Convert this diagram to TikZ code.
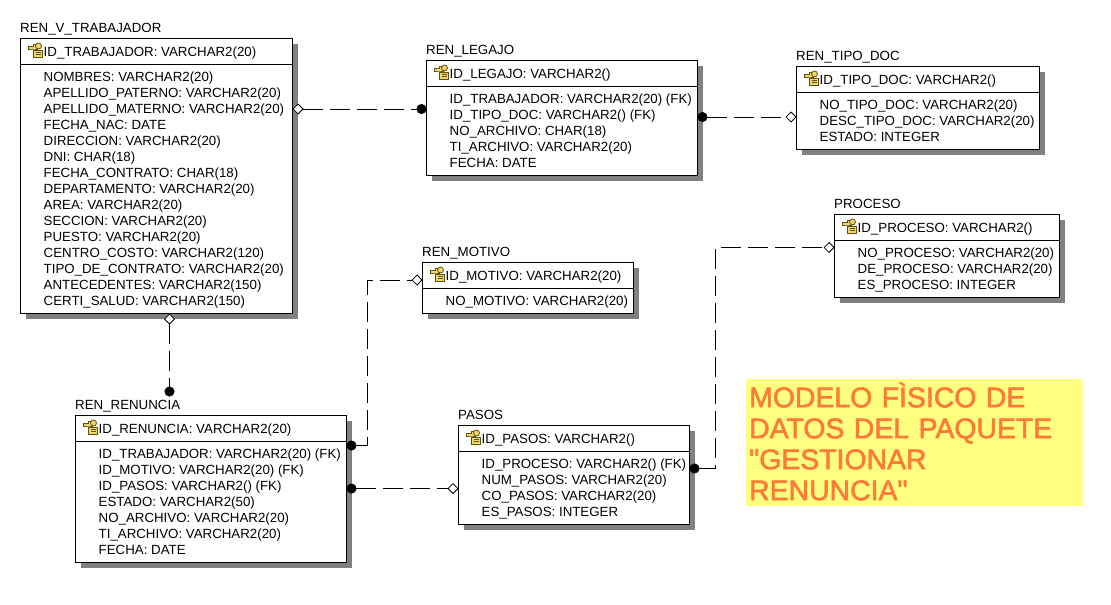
\documentclass[tikz,border=0pt]{standalone}
\usepackage{fontspec}
\setmainfont{Liberation Sans}
\newfontfamily\notefont[FakeBold=2]{Liberation Sans}
\usepackage{xcolor}
\usepackage{tikz}
\usetikzlibrary{shapes,arrows.meta,positioning,calc,shadows}
\definecolor{notefill}{RGB}{255, 255, 128}
\definecolor{noteink}{RGB}{255, 122, 56}
\definecolor{keyfill}{RGB}{236, 214, 110}
\definecolor{keyline}{RGB}{96, 80, 10}
\newcommand{\entfont}{\fontsize{13.3}{16}\selectfont}
\tikzset{
  reldot/.tip={Circle[length=10pt,width=10pt]},
  reldia/.tip={Diamond[length=11pt,width=11pt,fill=white,line width=0.8pt]},
  keyicon/.pic={
    \draw[keyline,fill=keyfill,line width=0.8pt] (0,3) -- (5,3) -- (5,1) -- (9,1) -- (9,6) -- (5,6) -- (0,6) -- cycle;
    \draw[keyline,fill=keyfill,line width=0.8pt] (10,3) circle (3);
    \draw[keyline,fill=keyfill,line width=0.8pt] (5,7) rectangle (14,14);
    \draw[keyline,line width=0.8pt] (7,9.5) -- (12,9.5) (7,11.5) -- (12,11.5);
  }
}
% one table: box, title, key row, rule, other rows
\newcommand{\entity}[7]{
  \node[entbox,#2,minimum width=#3,minimum height=#4](#1){};
  \node[enttitle,above right=5.5pt and -0.5pt of #1.north west](#1-title){#5};
  \node[entpk,below right=7.5pt and 23pt of #1.north west](#1-pk){#6};
  \draw ([yshift=-26pt]#1.north west)--([yshift=-26pt]#1.north east);
  \node[entattr,below right=31.8pt and 23pt of #1.north west](#1-attr){\rule{0pt}{11pt}#7};
  \pic at ([shift={(8,4.5)}]#1.north west) {keyicon};
}
\begin{document}
\begin{tikzpicture}[x=1pt,y=-1pt,
  entbox/.style={draw,fill=white,line width=1pt,anchor=north west,inner sep=0pt,outer sep=0pt,copy shadow={shadow xshift=5pt,shadow yshift=-5pt,draw=none,fill=black!50}},
  enttitle/.style={inner sep=0pt,text depth=0pt,font=\entfont},
  entpk/.style={inner sep=0pt,text height=10pt,text depth=0pt,font=\entfont},
  entattr/.style={inner sep=0pt,align=left,font=\entfont},
  rel/.style={line width=1pt,dash pattern=on 20pt off 7pt}]
\useasboundingbox (0,0) rectangle (1111,605);
\entity{trabajador}{at={(20.5,38.5)}}{272pt}{275pt}{REN\_V\_TRABAJADOR}{ID\_TRABAJADOR: VARCHAR2(20)}{NOMBRES: VARCHAR2(20)\\APELLIDO\_PATERNO: VARCHAR2(20)\\APELLIDO\_MATERNO: VARCHAR2(20)\\FECHA\_NAC: DATE\\DIRECCION: VARCHAR2(20)\\DNI: CHAR(18)\\FECHA\_CONTRATO: CHAR(18)\\DEPARTAMENTO: VARCHAR2(20)\\AREA: VARCHAR2(20)\\SECCION: VARCHAR2(20)\\PUESTO: VARCHAR2(20)\\CENTRO\_COSTO: VARCHAR2(120)\\TIPO\_DE\_CONTRATO: VARCHAR2(20)\\ANTECEDENTES: VARCHAR2(150)\\CERTI\_SALUD: VARCHAR2(150)}
\entity{legajo}{below right=22pt and 134pt of trabajador.north east}{271pt}{115pt}{REN\_LEGAJO}{ID\_LEGAJO: VARCHAR2()}{ID\_TRABAJADOR: VARCHAR2(20) (FK)\\ID\_TIPO\_DOC: VARCHAR2() (FK)\\NO\_ARCHIVO: CHAR(18)\\TI\_ARCHIVO: VARCHAR2(20)\\FECHA: DATE}
\entity{tipodoc}{below right=6pt and 99pt of legajo.north east}{243pt}{83pt}{REN\_TIPO\_DOC}{ID\_TIPO\_DOC: VARCHAR2()}{NO\_TIPO\_DOC: VARCHAR2(20)\\DESC\_TIPO\_DOC: VARCHAR2(20)\\ESTADO: INTEGER}
\entity{proceso}{below right=65pt and 38pt of tipodoc.south west}{225pt}{83pt}{PROCESO}{ID\_PROCESO: VARCHAR2()}{NO\_PROCESO: VARCHAR2(20)\\DE\_PROCESO: VARCHAR2(20)\\ES\_PROCESO: INTEGER}
\entity{motivo}{below right=224pt and 130pt of trabajador.north east}{211pt}{51pt}{REN\_MOTIVO}{ID\_MOTIVO: VARCHAR2(20)}{NO\_MOTIVO: VARCHAR2(20)}
\entity{renuncia}{below right=102pt and 55pt of trabajador.south west}{271pt}{147pt}{REN\_RENUNCIA}{ID\_RENUNCIA: VARCHAR2(20)}{ID\_TRABAJADOR: VARCHAR2(20) (FK)\\ID\_MOTIVO: VARCHAR2(20) (FK)\\ID\_PASOS: VARCHAR2() (FK)\\ESTADO: VARCHAR2(50)\\NO\_ARCHIVO: VARCHAR2(20)\\TI\_ARCHIVO: VARCHAR2(20)\\FECHA: DATE}
\entity{pasos}{below right=10pt and 112pt of renuncia.north east}{231pt}{99pt}{PASOS}{ID\_PASOS: VARCHAR2()}{ID\_PROCESO: VARCHAR2() (FK)\\NUM\_PASOS: VARCHAR2(20)\\CO\_PASOS: VARCHAR2(20)\\ES\_PASOS: INTEGER}
\node[fill=notefill,text=noteink,anchor=north west,inner xsep=3pt,inner ysep=0pt,text width=331pt,align=left,font=\notefont\fontsize{28.4}{31}\selectfont](note) at (746,379){\rule{0pt}{28pt}MODELO FÌSICO DE\\DATOS DEL PAQUETE\\"GESTIONAR\\RENUNCIA"\rule[-6pt]{0pt}{6pt}};
\coordinate[above right=19pt and 94pt of renuncia.north west](renunciaend);
\draw[rel,reldia-reldot]([yshift=-70.5pt]trabajador.north east)--([yshift=-48.5pt]legajo.north west);
\draw[rel,reldot-reldia]([yshift=-56.5pt]legajo.north east)--([yshift=-50.5pt]tipodoc.north west);
\draw[rel,reldia-reldot]([xshift=149pt]trabajador.south west)--(renunciaend);
\draw[rel,reldot-reldia]([yshift=-30pt]renuncia.north east)--++(21,0)|-([yshift=-17.5pt]motivo.north west);
\draw[rel,reldot-reldia]([yshift=-73pt]renuncia.north east)--([yshift=-63pt]pasos.north west);
\draw[rel,reldot-reldia]([yshift=-43pt]pasos.north east)--++(26,0)|-([yshift=-33pt]proceso.north west);
\end{tikzpicture}
\end{document}
